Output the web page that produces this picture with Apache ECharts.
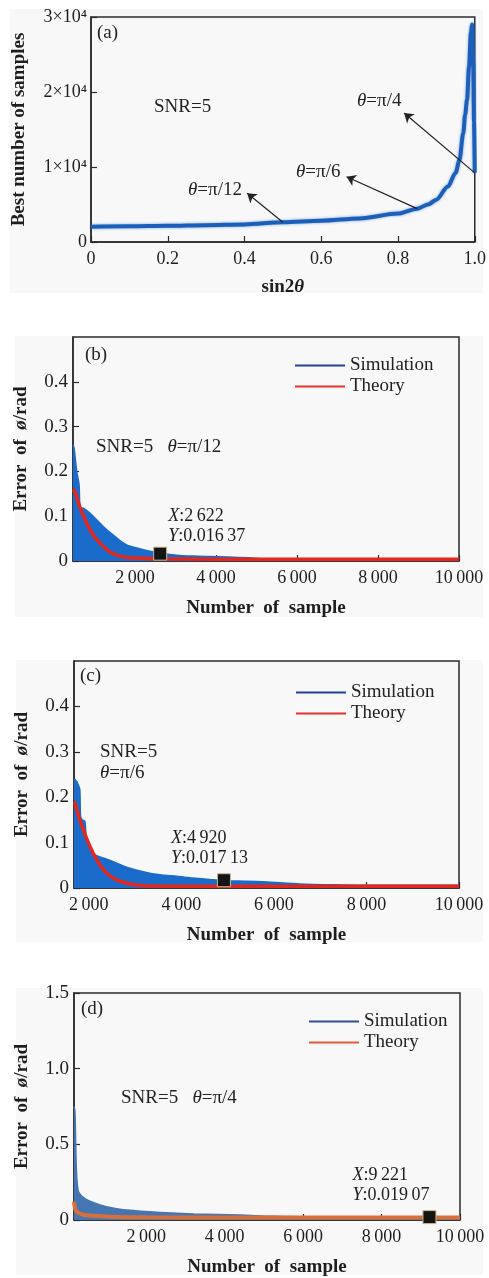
<!DOCTYPE html>
<html><head><meta charset="utf-8">
<script src="https://cdn.jsdelivr.net/npm/echarts@6/dist/echarts.min.js"></script>
<style>
html,body{margin:0;padding:0;background:#fff;}
#wrap{position:relative;width:489px;height:1278px;overflow:hidden;}
.bg{position:absolute;background:#f8f8f8;}
#chart{position:absolute;left:0;top:0;width:489px;height:1278px;}
</style></head><body>
<div id="wrap">
<div class="bg" style="left:10px;top:9px;width:473px;height:284px"></div>
<div class="bg" style="left:15px;top:336px;width:468px;height:281px"></div>
<div class="bg" style="left:16px;top:660px;width:467px;height:282px"></div>
<div class="bg" style="left:16px;top:988px;width:467px;height:287px"></div>
<div id="chart"></div>
</div>
<script>
// ---------- DATA ----------
// (a) best number of samples vs sin2θ
const aX = [0, 0.1, 0.2, 0.3, 0.4, 0.5, 0.6, 0.7, 0.8, 0.85, 0.88, 0.9, 0.93, 0.95, 0.96, 0.97, 0.975, 0.98, 0.985, 0.99, 0.993, 0.996, 0.998, 1.0];
const aY = [2040, 2100, 2170, 2250, 2350, 2622, 2840, 3150, 3800, 4450, 5050, 5650, 7400, 9200, 10900, 14500, 17000, 19000, 23300, 27900, 29000, 24000, 16000, 9221];
const aArrowFrom = [[0.5, 2622], [0.85, 4450], [1.0, 9221]];
const aArrowTo = [[0.407, 6500], [0.666, 8700], [0.816, 17200]];

// (b) θ=π/12
const bSimX = [470, 500, 560, 620, 645, 723, 850, 970, 1100, 1217, 1340, 1464, 1620, 1795, 2000, 2205, 2400, 2617, 3030, 3450, 3852, 4300, 4800, 5200, 6000, 8000, 10000];
const bSimY = [0.26, 0.25, 0.2, 0.17, 0.12, 0.118, 0.11, 0.1, 0.088, 0.077, 0.067, 0.058, 0.046, 0.036, 0.03, 0.025, 0.021, 0.018, 0.013, 0.011, 0.01, 0.009, 0.007, 0.005, 0.004, 0.004, 0.004];
const bThX = [470, 519, 642, 807, 970, 1136, 1383, 1630, 1950, 2500, 4000, 6000, 8000, 10000];
const bThY = [0.16, 0.155, 0.12, 0.085, 0.058, 0.04, 0.02, 0.011, 0.007, 0.005, 0.004, 0.004, 0.004, 0.004];
const bMark = [2622, 0.01637];

// (c) θ=π/6
const cSimX = [1680, 1700, 1760, 1805, 1821, 1860, 1914, 1950, 2022, 2093, 2200, 2310, 2525, 2815, 3174, 3535, 3900, 4249, 4600, 4977, 5400, 5850, 6560, 7280, 8000, 9000, 10000];
const cSimY = [0.235, 0.239, 0.23, 0.217, 0.158, 0.15, 0.147, 0.106, 0.084, 0.075, 0.07, 0.066, 0.058, 0.046, 0.036, 0.029, 0.026, 0.022, 0.019, 0.016, 0.015, 0.013, 0.009, 0.007, 0.006, 0.006, 0.006];
const cThX = [1680, 1697, 1805, 1950, 2093, 2238, 2383, 2599, 2886, 3248, 4000, 6000, 8000, 10000];
const cThY = [0.19, 0.188, 0.15, 0.11, 0.077, 0.051, 0.033, 0.018, 0.009, 0.005, 0.004, 0.004, 0.004, 0.004];
const cMark = [4920, 0.01713];

// (d) θ=π/4
const dSimX = [160, 184, 200, 210, 228, 269, 330, 396, 520, 652, 850, 1079, 1506, 2358, 3210, 4404, 5000, 6000, 8000, 10000];
const dSimY = [0.75, 0.72, 0.55, 0.42, 0.29, 0.19, 0.165, 0.15, 0.13, 0.116, 0.097, 0.083, 0.066, 0.05, 0.04, 0.033, 0.026, 0.022, 0.02, 0.02];
const dThX = [160, 184, 228, 396, 652, 1079, 2000, 4000, 6000, 8000, 10000];
const dThY = [0.12, 0.08, 0.055, 0.035, 0.028, 0.022, 0.018, 0.017, 0.017, 0.017, 0.017];
const dMark = [9221, 0.01907];

const xMins = [0, 470, 1680, 160];
const sampleTicks = [2000, 4000, 6000, 8000, 10000];

// ---------- HELPERS ----------
const FONT = "'Liberation Serif','DejaVu Serif',serif";
const INK = '#1e1e1e';
const zip = (xs, ys) => xs.map((x, i) => [x, ys[i]]);
const thou = v => { const s = String(Math.round(v)); return s.length > 3 ? s.slice(0, -3) + '\u2009' + s.slice(-3) : s; };
const dec5 = v => { const s = v.toFixed(5); return s.slice(0, 5) + '\u2009' + s.slice(5); };
const dec1 = v => v === 0 ? '0' : v.toFixed(1);

const gridBase = {show: true, borderColor: '#2b2b2b', borderWidth: 1.5, backgroundColor: 'transparent'};
const grids = [
  {left: 91, top: 17, width: 386, height: 225},
  {left: 73, top: 337, width: 386, height: 224},
  {left: 74, top: 661, width: 385, height: 227},
  {left: 74, top: 993, width: 386, height: 228}
].map(g => Object.assign({}, gridBase, g));

const axisCommon = {
  axisLine: {show: true, onZero: false, lineStyle: {color: '#2b2b2b', width: 1.5}},
  axisTick: {show: true, inside: true, length: 6, lineStyle: {color: '#2b2b2b', width: 1.2}},
  splitLine: {show: false},
  axisLabel: {color: INK, fontFamily: FONT, fontSize: 18, margin: 6}
};
const nameStyle = {color: INK, fontFamily: FONT, fontSize: 19, fontWeight: 'bold',
  rich: {i: {fontStyle: 'italic', fontWeight: 'bold', fontFamily: FONT, fontSize: 19, color: INK}}};

function mk(o) { return Object.assign({}, JSON.parse(JSON.stringify(axisCommon)), o); }

const xAxes = [
  mk({gridIndex: 0, type: 'value', min: 0, max: 1, interval: 0.2, name: 'sin2{i|θ}', nameLocation: 'middle', nameGap: 36, nameTextStyle: nameStyle}),
];
const yAxes = [
  mk({gridIndex: 0, type: 'value', min: 0, max: 30000, interval: 10000, name: 'Best number of samples', nameLocation: 'middle', nameGap: 62, nameTextStyle: nameStyle}),
];
xAxes[0].axisLabel.formatter = dec1;
xAxes[0].axisLabel.margin = 8;
yAxes[0].axisLabel.formatter = v => v === 0 ? '0' : (v / 10000) + '×10⁴';
yAxes[0].axisLabel.margin = 4;

for (let k = 1; k <= 3; k++) {
  const xa = mk({gridIndex: k, type: 'value', min: xMins[k], max: 10000, name: 'Number  of  sample', nameLocation: 'middle', nameGap: 38, nameTextStyle: nameStyle});
  xa.axisLabel.customValues = sampleTicks;
  xa.axisTick.customValues = sampleTicks;
  xa.axisLabel.formatter = thou;
  xa.axisLabel.margin = 8;
  xAxes.push(xa);
  const ya = mk({gridIndex: k, type: 'value', min: 0, max: k === 3 ? 1.5 : 0.5, interval: k === 3 ? 0.5 : 0.1, name: 'Error  of  {i|ø}/rad', nameLocation: 'middle', nameGap: 42, nameTextStyle: nameStyle});
  ya.axisLabel.formatter = dec1;
  ya.axisLabel.showMaxLabel = k === 3;
  ya.axisLabel.margin = 5;
  ya.axisLabel.fontSize = 19;
  yAxes.push(ya);
}

const simColors = ['#1b6bcb', '#1b6bcb', '#4676b2'];
const thColors = ['#e3271d', '#e3271d', '#da7038'];
const legSim = ['#24409b', '#24409b', '#2f4f98'];
const legTh = ['#e5302a', '#e5302a', '#e05a3a'];

const sims = [[bSimX, bSimY], [cSimX, cSimY], [dSimX, dSimY]];
const ths = [[bThX, bThY], [cThX, cThY], [dThX, dThY]];
const marks = [bMark, cMark, dMark];
const markLabelPos = [[15, -40], [-46, -45], [-70, -45]];

const series = [{
  name: 'curveA', type: 'line', xAxisIndex: 0, yAxisIndex: 0,
  data: zip(aX, aY), smooth: 0.3, smoothMonotone: 'x', symbol: 'none',
  lineStyle: {color: '#1c5fb8', width: 4, shadowColor: 'rgba(40,110,210,0.6)', shadowBlur: 3},
  markLine: {
    silent: true, animation: false, symbol: ['none', 'arrow'], symbolSize: 9,
    label: {show: false}, emphasis: {disabled: true},
    lineStyle: {color: '#222', width: 1.2, type: 'solid'},
    data: aArrowFrom.map((f, i) => [{coord: f}, {coord: aArrowTo[i]}])
  }
}];
for (let k = 0; k < 3; k++) {
  series.push({
    name: 'Simulation', type: 'line', xAxisIndex: k + 1, yAxisIndex: k + 1,
    data: zip(sims[k][0], sims[k][1]), smooth: 0.25, symbol: 'none',
    lineStyle: {color: simColors[k], width: 1.5}, itemStyle: {color: simColors[k]},
    areaStyle: {color: simColors[k], opacity: 1}, z: 2
  });
  series.push({
    name: 'Theory', type: 'line', xAxisIndex: k + 1, yAxisIndex: k + 1,
    data: zip(ths[k][0], ths[k][1]), smooth: 0.3, symbol: 'none',
    lineStyle: {color: thColors[k], width: k === 2 ? 4 : 3.5}, itemStyle: {color: thColors[k]}, z: 3
  });
  series.push({
    name: 'marker' + k, type: 'scatter', xAxisIndex: k + 1, yAxisIndex: k + 1,
    data: [marks[k]], symbol: 'rect', symbolSize: 13, z: 5,
    itemStyle: {color: '#141414', borderColor: '#c9b98c', borderWidth: 1, opacity: 1},
    label: {show: true, position: markLabelPos[k], align: 'left', verticalAlign: 'top', opacity: 1,
      fontFamily: FONT, fontSize: 18, lineHeight: 20, color: '#1e1e1e',
      formatter: p => `{i|X}:${thou(p.value[0])}\n{i|Y}:${dec5(p.value[1])}`,
      rich: {i: {fontStyle: 'italic', fontFamily: FONT, fontSize: 18, color: '#1e1e1e', lineHeight: 20}}}
  });
}

const legendTops = [351, 678, 1007];
const legendLefts = [290, 291, 304];
const legends = legendTops.map((t, k) => ({
  orient: 'vertical', left: legendLefts[k], top: t, itemWidth: 50, itemHeight: 14, itemGap: 2,
  selectedMode: false,
  textStyle: {fontFamily: FONT, fontSize: 19, color: '#222'},
  data: [
    {name: 'Simulation', icon: 'path://M0,0L50,0L50,2L0,2Z', itemStyle: {color: legSim[k]}},
    {name: 'Theory', icon: 'path://M0,0L50,0L50,2L0,2Z', itemStyle: {color: legTh[k]}}
  ]
}));

const richT = {i: {fontStyle: 'italic', fontFamily: FONT, fontSize: 19, fill: '#222'}};
const texts = [
  ['(a)', 97, 33], ['SNR=5', 154, 107], ['{i|θ}=π/12', 188, 190], ['{i|θ}=π/6', 296, 172], ['{i|θ}=π/4', 357, 101],
  ['(b)', 85, 355], ['SNR=5   {i|θ}=π/12', 96, 447],
  ['(c)', 80, 676], ['SNR=5', 100, 752], ['{i|θ}=π/6', 100, 773],
  ['(d)', 81, 1009], ['SNR=5   {i|θ}=π/4', 121, 1098]
];
const graphic = texts.map(([t, x, y]) => ({
  type: 'text', x: x, y: y, z: 10, silent: true,
  style: {text: t, fontFamily: FONT, fontSize: 19, fill: '#222', align: 'left', verticalAlign: 'middle', rich: richT}
}));

const chart = echarts.init(document.getElementById('chart'), null, {renderer: 'canvas'});
chart.setOption({
  backgroundColor: 'transparent',
  animation: false,
  grid: grids, xAxis: xAxes, yAxis: yAxes, series: series, legend: legends, graphic: graphic
});
</script>
</body></html>
